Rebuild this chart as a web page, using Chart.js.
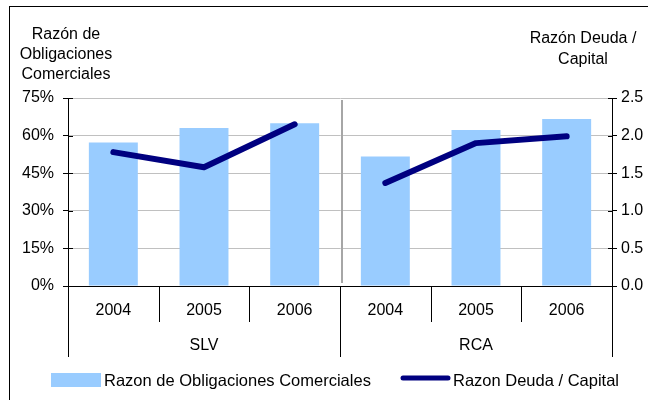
<!DOCTYPE html>
<html>
<head>
<meta charset="utf-8">
<script src="https://cdn.jsdelivr.net/npm/chart.js@4.4.1/dist/chart.umd.min.js"></script>
<style>
  html, body { margin: 0; padding: 0; background: #fff; overflow: hidden; }
  #wrap { position: relative; width: 648px; height: 400px; }
  #frame { position: absolute; left: 9px; top: 6px; width: 700px; height: 500px; border: 1px solid #000; }
  canvas { position: absolute; left: 0; top: 0; }
</style>
</head>
<body>
<div id="wrap">
  <div id="frame"></div>
  <canvas id="c" width="648" height="400"></canvas>
</div>
<script>
// ---- data ----
const years = ['2004', '2005', '2006', '2004', '2005', '2006'];
const groups = ['SLV', 'SLV', 'SLV', 'RCA', 'RCA', 'RCA'];
const obligacionesComerciales = [57.2, 63.0, 64.9, 51.7, 62.2, 66.6];   // %
const deudaCapital = [1.78, 1.58, 2.15, 1.37, 1.90, 1.99];
const leftTitle = ['Razón de', 'Obligaciones', 'Comerciales'];
const rightTitle = ['Razón Deuda /', 'Capital'];
const legendLabels = ['Razon de Obligaciones Comerciales', 'Razon Deuda / Capital'];

const BAR_COLOR = '#99CCFF';
const LINE_COLOR = '#000080';
const FONT = '"Liberation Sans", Arial, sans-serif';
Chart.defaults.font.family = FONT;
Chart.defaults.color = '#000';

// one line dataset per group so the line breaks between groups
const groupNames = [...new Set(groups)];
const lineSets = groupNames.map((g) => ({
  type: 'line',
  label: legendLabels[1],
  data: deudaCapital.map((v, i) => (groups[i] === g ? v : null)),
  yAxisID: 'y2',
  borderColor: LINE_COLOR,
  backgroundColor: LINE_COLOR,
  borderWidth: 6,
  pointRadius: 0,
  borderCapStyle: 'round',
  borderJoinStyle: 'round',
  tension: 0,
  spanGaps: false,
  order: 1
}));

const decor = {
  id: 'decor',
  beforeDatasetsDraw(chart) {
    const { ctx, chartArea: a, scales: { x } } = chart;
    ctx.save();
    // gray separator between groups
    ctx.strokeStyle = '#a6a6a6';
    ctx.lineWidth = 2;
    for (let i = 1; i < years.length; i++) {
      if (groups[i] !== groups[i - 1]) {
        const bx = (x.getPixelForValue(i - 1) + x.getPixelForValue(i)) / 2 + 2;
        ctx.beginPath();
        ctx.moveTo(bx, a.top + 2);
        ctx.lineTo(bx, a.bottom - 3);
        ctx.stroke();
      }
    }
    ctx.restore();
  },
  afterDraw(chart) {
    const { ctx, chartArea: a, scales: { x, y, y2 } } = chart;
    ctx.save();
    ctx.strokeStyle = '#000';
    ctx.lineWidth = 1;
    // inner halves of crossing tick marks
    y.ticks.forEach((t) => {
      const py = Math.round(y.getPixelForValue(t.value)) + 0.5;
      ctx.beginPath(); ctx.moveTo(a.left, py); ctx.lineTo(a.left + 5, py); ctx.stroke();
    });
    y2.ticks.forEach((t) => {
      const py = Math.round(y2.getPixelForValue(t.value)) + 0.5;
      ctx.beginPath(); ctx.moveTo(a.right - 4, py); ctx.lineTo(a.right, py); ctx.stroke();
    });
    // category separators
    const n = years.length;
    for (let i = 0; i <= n; i++) {
      let bx;
      if (i === 0) bx = a.left;
      else if (i === n) bx = a.right;
      else bx = (x.getPixelForValue(i - 1) + x.getPixelForValue(i)) / 2;
      const long = i === 0 || i === n || groups[i] !== groups[i - 1];
      bx = Math.round(bx) + 0.5;
      ctx.beginPath();
      ctx.moveTo(bx, a.bottom);
      ctx.lineTo(bx, a.bottom + (long ? 71 : 36));
      ctx.stroke();
    }
    // year labels
    ctx.fillStyle = '#000';
    ctx.font = '16px ' + FONT;
    ctx.textAlign = 'center';
    ctx.textBaseline = 'middle';
    years.forEach((yr, i) => ctx.fillText(yr, x.getPixelForValue(i), a.bottom + 25));
    // group labels
    groupNames.forEach((g) => {
      const idx = groups.map((gg, i) => (gg === g ? i : -1)).filter((i) => i >= 0);
      const c = (x.getPixelForValue(idx[0]) + x.getPixelForValue(idx[idx.length - 1])) / 2;
      ctx.fillText(g, c, a.bottom + 60);
    });
    // axis titles
    ctx.font = '16px ' + FONT;
    ctx.textBaseline = 'alphabetic';
    leftTitle.forEach((s, i) => ctx.fillText(s, 66, 39 + i * 20));
    rightTitle.forEach((s, i) => ctx.fillText(s, 583, 43 + i * 21));
    // legend
    const ly = 380;
    ctx.fillStyle = BAR_COLOR;
    ctx.fillRect(51, ly - 7, 50, 14);
    ctx.strokeStyle = LINE_COLOR;
    ctx.lineWidth = 5;
    ctx.lineCap = 'round';
    ctx.beginPath(); ctx.moveTo(403, ly - 2); ctx.lineTo(448, ly - 2); ctx.stroke();
    ctx.fillStyle = '#000';
    ctx.font = '16.5px ' + FONT;
    ctx.textAlign = 'left';
    ctx.textBaseline = 'middle';
    ctx.fillText(legendLabels[0], 104, ly + 1);
    ctx.fillText(legendLabels[1], 453, ly + 1);
    ctx.restore();
  }
};

new Chart(document.getElementById('c'), {
  data: {
    labels: years,
    datasets: [
      {
        type: 'bar',
        label: legendLabels[0],
        data: obligacionesComerciales,
        yAxisID: 'y',
        backgroundColor: BAR_COLOR,
        borderWidth: 0,
        barPercentage: 0.54,
        categoryPercentage: 1.0,
        order: 2
      },
      ...lineSets
    ]
  },
  options: {
    responsive: false,
    animation: false,
    devicePixelRatio: 1,
    layout: { padding: { top: 98, left: 0, right: 0, bottom: 0 } },
    plugins: { legend: { display: false }, tooltip: { enabled: false } },
    scales: {
      x: {
        type: 'category',
        grid: { display: false },
        ticks: { display: false },
        border: { display: true, color: '#000', width: 1 },
        afterFit(s) { s.height = 114; }
      },
      y: {
        position: 'left',
        min: 0, max: 75,
        ticks: { stepSize: 15, callback: (v) => v + '%', font: { size: 16 }, color: '#000', padding: 9 },
        grid: { color: '#c0c0c0', tickColor: '#000', tickLength: 5, lineWidth: 1 },
        border: { display: true, color: '#000', width: 1 },
        afterFit(s) { s.width = 68; }
      },
      y2: {
        position: 'right',
        min: 0, max: 2.5,
        ticks: { stepSize: 0.5, callback: (v) => Number(v).toFixed(1), font: { size: 16 }, color: '#000', padding: 4 },
        grid: { drawOnChartArea: false, tickColor: '#000', tickLength: 5 },
        border: { display: true, color: '#000', width: 1 },
        afterFit(s) { s.width = 36; }
      }
    }
  },
  plugins: [decor]
});
</script>
</body>
</html>
